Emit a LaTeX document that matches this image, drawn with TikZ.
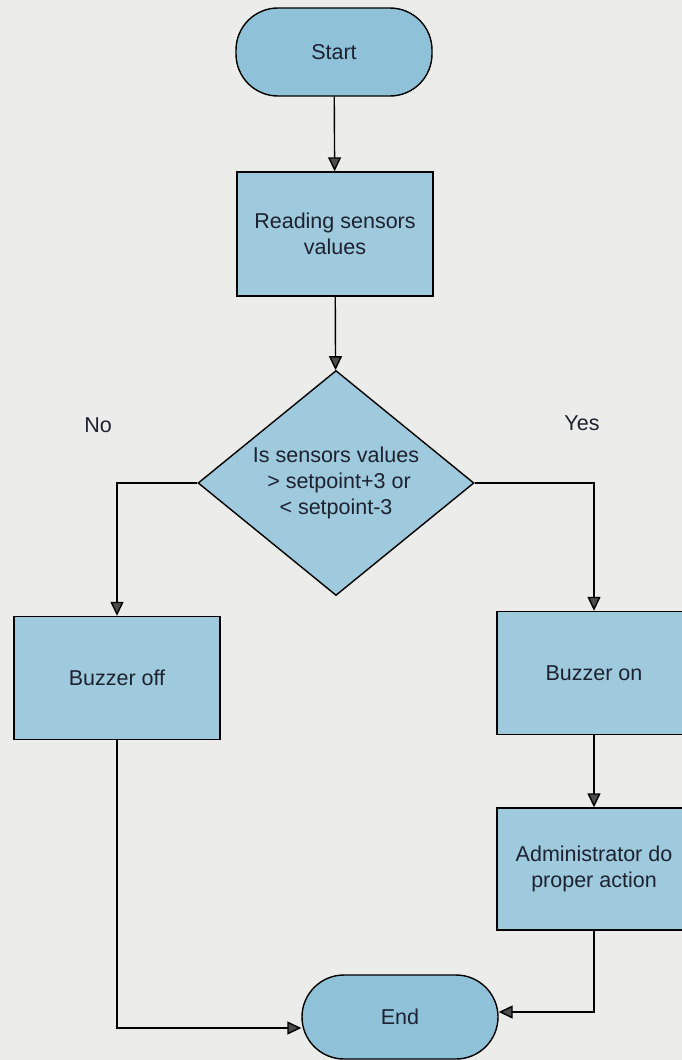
\documentclass[tikz,border=0pt]{standalone}
\usepackage{fontspec}
\setmainfont{Liberation Sans}
\usetikzlibrary{shapes.geometric,arrows.meta}
\definecolor{paper}{HTML}{ECEDEB}
\definecolor{boxfill}{HTML}{9FC9DC}
\definecolor{termfill}{HTML}{8FC2D9}
\definecolor{ink}{HTML}{1C2230}
\tikzset{
  base/.style={draw=black, line width=1.4pt, text=ink, font=\fontsize{21.5}{26}\selectfont, align=center, inner sep=0pt},
  terminal/.style={base, fill=termfill, rectangle, rounded corners=42pt, minimum width=196pt, minimum height=88pt},
  process/.style={base, fill=boxfill, rectangle, minimum width=196pt, minimum height=124pt},
  decision/.style={base, fill=boxfill, diamond, aspect=1.2267, minimum width=276pt, minimum height=225pt},
  label/.style={text=ink, font=\fontsize{21.5}{26}\selectfont},
  flow/.style={draw=black, line width=1.4pt, -{Triangle[length=14pt,width=13pt,fill=black!70]}}
}
\begin{document}
\begin{tikzpicture}[x=1pt,y=1pt]
  \useasboundingbox (0,0) rectangle (682,-1060);
  \fill[paper] (0,0) rectangle (682,-1060);

  \node[terminal] (start) at (334,-52) {Start};
  \node[process] (read) at (335,-234) {Reading sensors\\values};
  \node[decision] (dec) at (336,-483) {Is sensors values\\ \ > setpoint+3 or\\< setpoint-3};
  \node[process, minimum width=206pt, minimum height=123pt] (boff) at (117,-678) {Buzzer off};
  \node[process, minimum width=194pt, minimum height=123pt] (bon) at (594,-673) {Buzzer on};
  \node[process, minimum width=194pt, minimum height=122pt] (admin) at (594,-869) {Administrator do\\proper action};
  \node[terminal, minimum height=84pt] (stop) at (400,-1017) {End};

  \node[label] (no) at (98,-425) {No};
  \node[label] (yes) at (582,-423) {Yes};

  \draw[flow] (start) -- (read);
  \draw[flow] (read) -- (dec);
  \draw[flow] (dec.west) -| (boff.north);
  \draw[flow] (dec.east) -| (bon.north);
  \draw[flow] (bon) -- (admin);
  \draw[flow] (admin.south) |- ([yshift=5pt]stop.east);
  \draw[flow] (boff.south) |- ([yshift=-11pt]stop.west);
\end{tikzpicture}
\end{document}
